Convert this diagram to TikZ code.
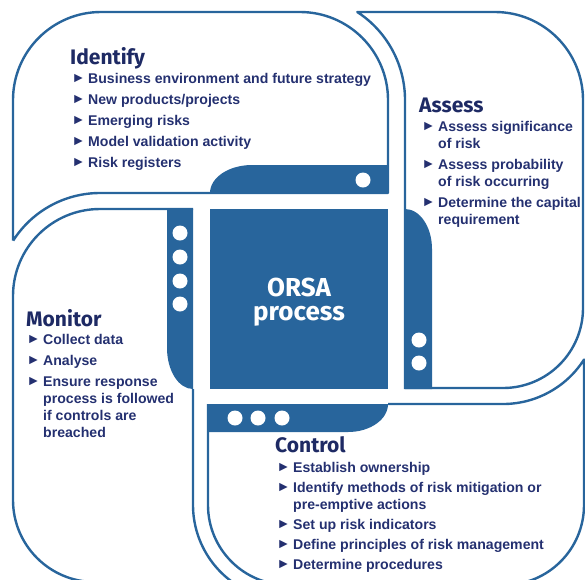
\documentclass[tikz,border=0pt]{standalone}
\usepackage{fontspec}
\setmainfont{Liberation Sans}
\newfontfamily\headfont{Fira Sans}
\definecolor{bl}{RGB}{40,101,156}
\definecolor{txt}{RGB}{36,48,112}
\definecolor{hdc}{RGB}{30,42,100}
\newcommand\bul{\makebox[16.5pt][l]{\raisebox{0.3pt}{\fontsize{14}{14}\selectfont\mdseries ►}}}
\tikzset{
  outl/.style={draw=bl, line width=2.4pt, line join=round},
  band/.style={fill=bl},
  dot/.style={fill=white},
  itm/.style={anchor=base west, inner sep=0pt, text=txt, font=\fontsize{14.1}{16}\selectfont\bfseries},
  hd/.style={anchor=base west, inner sep=0pt, text=hdc, font=\headfont\fontsize{21}{24}\selectfont\bfseries},
  ctr/.style={anchor=base, inner sep=0pt, text=white, font=\headfont\fontsize{26}{28}\selectfont\bfseries}
}
\begin{document}
\begin{tikzpicture}[x=1pt,y=-1pt]
\useasboundingbox (0,0) rectangle (585,579);
\clip (0,0) rectangle (585,579);
% petal outlines
\draw[outl] (13,240.7) -- (13,100) arc[start angle=180,end angle=270,radius=88] -- (300,12) arc[start angle=270,end angle=360,radius=88] -- (388,193) -- (100,193) arc[start angle=270,end angle=212.5,radius=103];
\draw[outl] (405,389) -- (405,100) arc[start angle=0,end angle=-56.9,radius=105] -- (495,12) arc[start angle=270,end angle=360,radius=88] -- (583,308) arc[start angle=0,end angle=90,radius=80] -- (405,388);
\draw[outl] (388,404) -- (503,404) arc[start angle=90,end angle=32.5,radius=96] -- (584,505) arc[start angle=0,end angle=90,radius=80] -- (288,585) arc[start angle=90,end angle=180,radius=80] -- (208,404);
\draw[outl] (193,389) -- (193,505) arc[start angle=180,end angle=110,radius=95];
\draw[outl] (193,209) -- (100,209) arc[start angle=270,end angle=180,radius=87] -- (13,500) arc[start angle=180,end angle=90,radius=82] -- (100,582);
% centre and bands
\fill[band] (210,209) rectangle (388,389);
\fill[band] (210,193) arc[start angle=180,end angle=270,x radius=42,y radius=28] -- (388,165) -- (388,193) -- cycle;
\fill[band] (405,209) arc[start angle=270,end angle=360,x radius=27,y radius=40] -- (432,389) -- (405,389) -- cycle;
\fill[band] (208,404) -- (388,404) arc[start angle=0,end angle=90,x radius=40,y radius=28] -- (208,432) -- cycle;
\fill[band] (193,209) -- (167,209) -- (167,348) arc[start angle=180,end angle=90,x radius=26,y radius=41] -- cycle;
% dots
\fill[dot] (363,180) circle[radius=7.5];
\fill[dot] (419,340) circle[radius=7.5];
\fill[dot] (419,363) circle[radius=7.5];
\fill[dot] (235,418) circle[radius=7.5];
\fill[dot] (258,418) circle[radius=7.5];
\fill[dot] (282,418) circle[radius=7.5];
\fill[dot] (180,233) circle[radius=7.5];
\fill[dot] (180,257) circle[radius=7.5];
\fill[dot] (180,281) circle[radius=7.5];
\fill[dot] (180,304) circle[radius=7.5];
% centre text
\node[ctr] (orsa) at (299,296) {ORSA};
\node[ctr] (proc) at (299,320) {process};
% Identify
\node[hd] (ih) at (70,64) {Identify};
\node[itm] (i1) at (71.5,83) {\bul Business environment and future strategy};
\node[itm] (i2) at (71.5,104) {\bul New products/projects};
\node[itm] (i3) at (71.5,125) {\bul Emerging risks};
\node[itm] (i4) at (71.5,146) {\bul Model validation activity};
\node[itm] (i5) at (71.5,167) {\bul Risk registers};
% Assess
\node[hd] (ah) at (419,112) {Assess};
\node[itm] (a1) at (421.5,131) {\bul Assess significance};
\node[itm] (a1b) at (438,148) {of risk};
\node[itm] (a2) at (421.5,169) {\bul Assess probability};
\node[itm] (a2b) at (438,186) {of risk occurring};
\node[itm] (a3) at (421.5,207) {\bul Determine the capital};
\node[itm] (a3b) at (438,224) {requirement};
% Monitor
\node[hd] (mh) at (26,326) {Monitor};
\node[itm] (m1) at (26.5,344) {\bul Collect data};
\node[itm] (m2) at (26.5,365) {\bul Analyse};
\node[itm] (m3) at (26.5,386) {\bul Ensure response};
\node[itm] (m3b) at (43,403) {process is followed};
\node[itm] (m3c) at (43,420) {if controls are};
\node[itm] (m3d) at (43,437) {breached};
% Control
\node[hd] (ch) at (275,452) {Control};
\node[itm] (c1) at (276.5,472) {\bul Establish ownership};
\node[itm] (c2) at (276.5,492) {\bul Identify methods of risk mitigation or};
\node[itm] (c2b) at (293,509) {pre-emptive actions};
\node[itm] (c3) at (276.5,529) {\bul Set up risk indicators};
\node[itm] (c4) at (276.5,549) {\bul Define principles of risk management};
\node[itm] (c5) at (276.5,569) {\bul Determine procedures};
\end{tikzpicture}
\end{document}
